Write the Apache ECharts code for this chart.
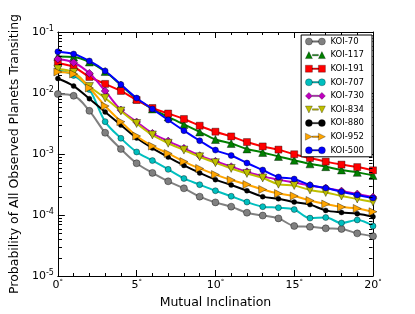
<!DOCTYPE html>
<html>
<head>
<meta charset="utf-8">
<script src="https://cdn.jsdelivr.net/npm/echarts@6/dist/echarts.min.js"></script>
<style>
html,body{margin:0;padding:0;background:#fff;}
#chart{width:415px;height:314px;}
</style>
</head>
<body>
<div id="chart"></div>
<script>
// Mutual inclination (degrees)
const inclinations = [0,1,2,3,4,5,6,7,8,9,10,11,12,13,14,15,16,17,18,19,20];

const koi70  = [9.6e-3, 9.0e-3, 5.1e-3, 2.23e-3, 1.21e-3, 7.05e-4, 4.9e-4, 3.57e-4, 2.74e-4, 2.0e-4, 1.61e-4, 1.37e-4, 1.09e-4, 9.8e-5, 8.8e-5, 6.6e-5, 6.4e-5, 6.05e-5, 5.9e-5, 5.0e-5, 4.5e-5];
const koi117 = [0.0397, 0.0389, 0.0322, 0.0225, 0.0135, 7.98e-3, 5.47e-3, 4.05e-3, 3.05e-3, 2.3e-3, 1.73e-3, 1.49e-3, 1.21e-3, 1.06e-3, 9.1e-4, 7.9e-4, 6.9e-4, 6.2e-4, 5.47e-4, 5.0e-4, 4.45e-4];
const koi191 = [0.0307, 0.0267, 0.0183, 0.0141, 0.0108, 7.67e-3, 5.68e-3, 4.61e-3, 3.75e-3, 2.91e-3, 2.32e-3, 1.94e-3, 1.57e-3, 1.33e-3, 1.18e-3, 9.9e-4, 8.6e-4, 7.5e-4, 6.7e-4, 6.1e-4, 5.4e-4];
const koi707 = [0.0238, 0.0194, 0.0114, 3.39e-3, 1.81e-3, 1.08e-3, 7.8e-4, 5.6e-4, 3.97e-4, 3.14e-4, 2.5e-4, 2.03e-4, 1.63e-4, 1.37e-4, 1.32e-4, 1.23e-4, 8.9e-5, 9.1e-5, 7.4e-5, 8.3e-5, 6.6e-5];
const koi730 = [0.0361, 0.0316, 0.0210, 0.0108, 5.26e-3, 3.35e-3, 2.18e-3, 1.63e-3, 1.24e-3, 9.4e-4, 7.6e-4, 6.2e-4, 5.1e-4, 4.3e-4, 3.8e-4, 3.4e-4, 3.05e-4, 2.77e-4, 2.47e-4, 2.21e-4, 1.97e-4];
const koi834 = [0.0247, 0.0217, 0.0128, 8.28e-3, 5.07e-3, 3.16e-3, 2.05e-3, 1.5e-3, 1.16e-3, 9.0e-4, 7.2e-4, 5.8e-4, 4.8e-4, 4.05e-4, 3.2e-4, 3.05e-4, 2.57e-4, 2.34e-4, 2.05e-4, 1.83e-4, 1.63e-4];
const koi880 = [0.0173, 0.0130, 8.07e-3, 4.89e-3, 2.99e-3, 1.83e-3, 1.25e-3, 8.9e-4, 6.5e-4, 4.9e-4, 3.8e-4, 3.1e-4, 2.5e-4, 2.0e-4, 1.85e-4, 1.63e-4, 1.48e-4, 1.19e-4, 1.1e-4, 1.05e-4, 9.4e-5];
const koi952 = [0.0221, 0.0205, 0.0121, 6.12e-3, 3.39e-3, 1.97e-3, 1.35e-3, 1.02e-3, 7.5e-4, 5.8e-4, 4.6e-4, 3.75e-4, 3.16e-4, 2.62e-4, 2.25e-4, 2.05e-4, 1.73e-4, 1.51e-4, 1.35e-4, 1.28e-4, 1.13e-4];
const koi500 = [0.0475, 0.0436, 0.0335, 0.0230, 0.0138, 8.28e-3, 5.47e-3, 3.61e-3, 2.41e-3, 1.65e-3, 1.16e-3, 9.45e-4, 7.12e-4, 5.47e-4, 4.2e-4, 3.89e-4, 3.1e-4, 2.77e-4, 2.41e-4, 2.13e-4, 1.9e-4];

const seriesNames = ['KOI-70','KOI-117','KOI-191','KOI-707','KOI-730','KOI-834','KOI-880','KOI-952','KOI-500'];
const seriesValues = [koi70, koi117, koi191, koi707, koi730, koi834, koi880, koi952, koi500];
const seriesColors = ['#808080','#008000','#ff0000','#00bfbf','#bf00bf','#bfbf00','#000000','#ffa500','#0000ff'];
const seriesSymbols = ['circle','triangle','rect','circle','diamond','triangle','circle','triangle','circle'];
const symbolRotations = [0,0,0,0,0,180,0,-90,0];
const symbolSizes = [7,8,7,6,8,8,5,8,6];

const xTicks = [0,5,10,15,20];

// minor ticks of the log axis (2..9 per decade)
const yMinorTicks = [];
for (let e = -5; e <= -2; e++) {
  for (let m = 2; m <= 9; m++) yMinorTicks.push(m * Math.pow(10, e));
}

// legend glyphs: marker - line - marker (20 x 7 box)
const LINK = ' M7,2.8 L13,2.8 L13,4.2 L7,4.2 Z ';
const legendGlyph = {
  circle: 'path://M0,3.5 A3.5,3.5 0 1,1 7,3.5 A3.5,3.5 0 1,1 0,3.5 Z' + LINK + 'M13,3.5 A3.5,3.5 0 1,1 20,3.5 A3.5,3.5 0 1,1 13,3.5 Z',
  triangle: 'path://M0,7 L3.5,0 L7,7 Z' + LINK + 'M13,7 L16.5,0 L20,7 Z',
  rect: 'path://M0,0 L7,0 L7,7 L0,7 Z' + LINK + 'M13,0 L20,0 L20,7 L13,7 Z',
  diamond: 'path://M3.5,0 L7,3.5 L3.5,7 L0,3.5 Z' + LINK + 'M16.5,0 L20,3.5 L16.5,7 L13,3.5 Z',
  down: 'path://M0,0 L7,0 L3.5,7 Z' + LINK + 'M13,0 L20,0 L16.5,7 Z',
  right: 'path://M0,0 L7,3.5 L0,7 Z' + LINK + 'M13,0 L20,3.5 L13,7 Z'
};
const legendIcons = ['circle','triangle','rect','circle','diamond','down','circle','right','circle'];

const FONT = 'DejaVu Sans';
const chart = echarts.init(document.getElementById('chart'), null, {renderer: 'canvas'});

const lineSeries = seriesNames.map((name, k) => ({
  name: name,
  type: 'line',
  xAxisIndex: 0,
  yAxisIndex: 0,
  data: inclinations.map((x, i) => [x, seriesValues[k][i]]),
  smooth: 0.35,
  symbol: seriesSymbols[k],
  symbolRotate: symbolRotations[k],
  symbolSize: symbolSizes[k],
  showAllSymbol: true,
  lineStyle: {color: seriesColors[k], width: 2},
  itemStyle: {color: seriesColors[k], borderColor: 'rgba(0,0,0,0.55)', borderWidth: 0.7},
  emphasis: {disabled: true},
  animation: false,
  z: 2 + k
}));

const minorTickSeries = {
  type: 'custom',
  name: 'minor',
  xAxisIndex: 0,
  yAxisIndex: 0,
  silent: true,
  animation: false,
  data: yMinorTicks.map(v => [0, v]),
  renderItem: function (params, api) {
    const p = api.coord([0, api.value(1)]);
    const cs = params.coordSys;
    const y = Math.round(p[1]) + 0.5;
    const xl = Math.round(cs.x) + 0.5;
    const xr = Math.round(cs.x + cs.width) - 0.5;
    return {
      type: 'group',
      children: [
        {type: 'line', shape: {x1: xl, y1: y, x2: xl + 3.5, y2: y}, style: {stroke: '#000', lineWidth: 1}},
        {type: 'line', shape: {x1: xr - 3.5, y1: y, x2: xr, y2: y}, style: {stroke: '#000', lineWidth: 1}}
      ]
    };
  },
  z: 20
};

const axisLineStyle = {show: true, onZero: false, lineStyle: {color: '#000', width: 1}};

chart.setOption({
  animation: false,
  backgroundColor: '#fff',
  textStyle: {fontFamily: FONT},
  grid: {left: 51, right: 42, top: 32, bottom: 38, show: false},
  legend: {
    data: seriesNames.map((n, k) => ({name: n, icon: legendGlyph[legendIcons[k]]})),
    orient: 'vertical',
    right: 43,
    top: 35,
    itemWidth: 20,
    itemHeight: 7,
    itemGap: 4.6,
    padding: [2, 8, 2, 4],
    backgroundColor: '#fff',
    borderColor: '#000',
    borderWidth: 1,
    itemStyle: {borderWidth: 0.5, borderColor: 'rgba(0,0,0,0.55)'},
    textStyle: {fontFamily: FONT, fontSize: 8.5, color: '#000'},
    selectedMode: false,
    z: 30
  },
  xAxis: [{
    type: 'value',
    min: 0, max: 20, interval: 5,
    position: 'bottom',
    axisLine: axisLineStyle,
    axisTick: {show: true, inside: true, length: 6, lineStyle: {color: '#000'}},
    minorTick: {show: true, splitNumber: 5, length: 3, lineStyle: {color: '#000'}},
    splitLine: {show: false},
    axisLabel: {
      margin: 3,
      formatter: v => xTicks.indexOf(v) >= 0 ? '{b|' + v + '}{d|°}' : '',
      rich: {
        b: {fontFamily: FONT, fontSize: 11, color: '#000', lineHeight: 13},
        d: {fontFamily: FONT, fontSize: 7, color: '#000', verticalAlign: 'top', lineHeight: 8}
      }
    },
    name: 'Mutual Inclination',
    nameLocation: 'middle',
    nameGap: 14,
    nameTextStyle: {fontFamily: FONT, fontSize: 12.5, color: '#000'}
  }, {
    type: 'value',
    min: 0, max: 20, interval: 5,
    position: 'top',
    axisLine: axisLineStyle,
    axisTick: {show: true, inside: true, length: 6, lineStyle: {color: '#000'}},
    minorTick: {show: true, splitNumber: 5, length: 3, lineStyle: {color: '#000'}},
    splitLine: {show: false},
    axisLabel: {show: false}
  }],
  yAxis: [{
    type: 'log',
    logBase: 10,
    min: 1e-5, max: 1e-1,
    position: 'left',
    axisLine: axisLineStyle,
    axisTick: {show: true, inside: true, length: 7, lineStyle: {color: '#000'}},
    splitLine: {show: false},
    axisLabel: {
      margin: 4,
      formatter: v => '{b|10}{e|' + Math.round(Math.log10(v)) + '}',
      rich: {
        b: {fontFamily: FONT, fontSize: 11, color: '#000', lineHeight: 14},
        e: {fontFamily: FONT, fontSize: 8, color: '#000', verticalAlign: 'top', lineHeight: 9}
      }
    },
    name: 'Probability of All Observed Planets Transiting',
    nameLocation: 'middle',
    nameGap: 31,
    nameTextStyle: {fontFamily: FONT, fontSize: 12.5, color: '#000'}
  }, {
    type: 'log',
    logBase: 10,
    min: 1e-5, max: 1e-1,
    position: 'right',
    axisLine: axisLineStyle,
    axisTick: {show: true, inside: true, length: 7, lineStyle: {color: '#000'}},
    splitLine: {show: false},
    axisLabel: {show: false}
  }],
  series: lineSeries.concat([minorTickSeries])
});
</script>
</body>
</html>
